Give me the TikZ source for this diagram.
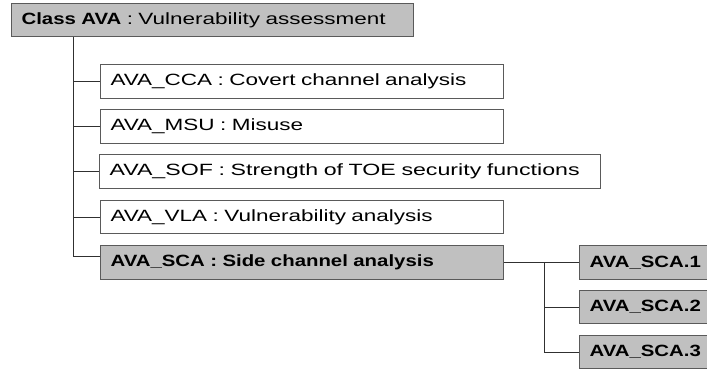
\documentclass[tikz,border=0pt]{standalone}
\usepackage{fontspec}
% wide sans faces for the labels
\newfontfamily\regf[FakeStretch=1.38]{Liberation Sans}
\newfontfamily\boldf[FakeStretch=1.25]{Liberation Sans}
\definecolor{boxgray}{HTML}{C0C0C0}
\definecolor{edgegray}{HTML}{5A5A5A}
\definecolor{linegray}{HTML}{303030}
\tikzset{
  wbox/.style={draw=edgegray, line width=1.1pt, fill=white, anchor=north west,
    inner xsep=10pt, inner ysep=0pt, align=left, font=\fontsize{16.3}{18}\regf},
  gbox/.style={wbox, fill=boxgray},
  conn/.style={draw=linegray, line width=0.9pt}
}
\begin{document}
\begin{tikzpicture}[x=1pt,y=-1pt]
\useasboundingbox (0,0) rectangle (707,369);
\begin{scope}
\clip (0,0) rectangle (707,369);
% class header
\node[gbox, minimum width=402pt, minimum height=33pt, text width=382pt] (cls) at (11,3)
  {\mbox{{\boldf\bfseries Class AVA} : Vulnerability assessment}};
% families
\node[wbox, minimum width=403pt, minimum height=34pt, text width=383pt] (cca) at (100,64)
  {\mbox{AVA\_CCA : Covert channel analysis}};
\node[wbox, minimum width=403pt, minimum height=34pt, text width=383pt] (msu) at (100,109)
  {\mbox{AVA\_MSU : Misuse}};
\node[wbox, minimum width=501pt, minimum height=34pt, text width=481pt] (sof) at (99,154)
  {\mbox{\scalebox{1.03}[1]{AVA\_SOF : Strength of TOE security functions}}};
\node[wbox, minimum width=403pt, minimum height=33pt, text width=383pt] (vla) at (100,200)
  {\mbox{AVA\_VLA : Vulnerability analysis}};
\node[gbox, minimum width=403pt, minimum height=34pt, text width=383pt] (sca) at (100,245)
  {\mbox{\boldf\bfseries AVA\_SCA : Side channel analysis}};
% components of AVA_SCA (running past the right edge)
\node[gbox, minimum width=131pt, minimum height=34pt, text width=111pt] (s1) at (579,245)
  {\mbox{\boldf\bfseries AVA\_SCA.1}};
\node[gbox, minimum width=131pt, minimum height=33pt, text width=111pt] (s2) at (579,290)
  {\mbox{\boldf\bfseries AVA\_SCA.2}};
\node[gbox, minimum width=131pt, minimum height=33pt, text width=111pt] (s3) at (579,335)
  {\mbox{\boldf\bfseries AVA\_SCA.3}};
% tree lines
\coordinate (trunk) at (73,0);
\coordinate (subtrunk) at (544,0);
\draw[conn] (cls.south -| trunk) |- ([yshift=6.5pt]sca.west);
\draw[conn] (trunk |- cca.west) -- (cca.west);
\draw[conn] (trunk |- msu.west) -- (msu.west);
\draw[conn] (trunk |- sof.west) -- (sof.west);
\draw[conn] (trunk |- vla.west) -- (vla.west);
\draw[conn] (sca.east) -- (s1.west);
\draw[conn] (sca.east -| subtrunk) |- (s3.west);
\draw[conn] (subtrunk |- s2.west) -- (s2.west);
\end{scope}
\end{tikzpicture}
\end{document}
